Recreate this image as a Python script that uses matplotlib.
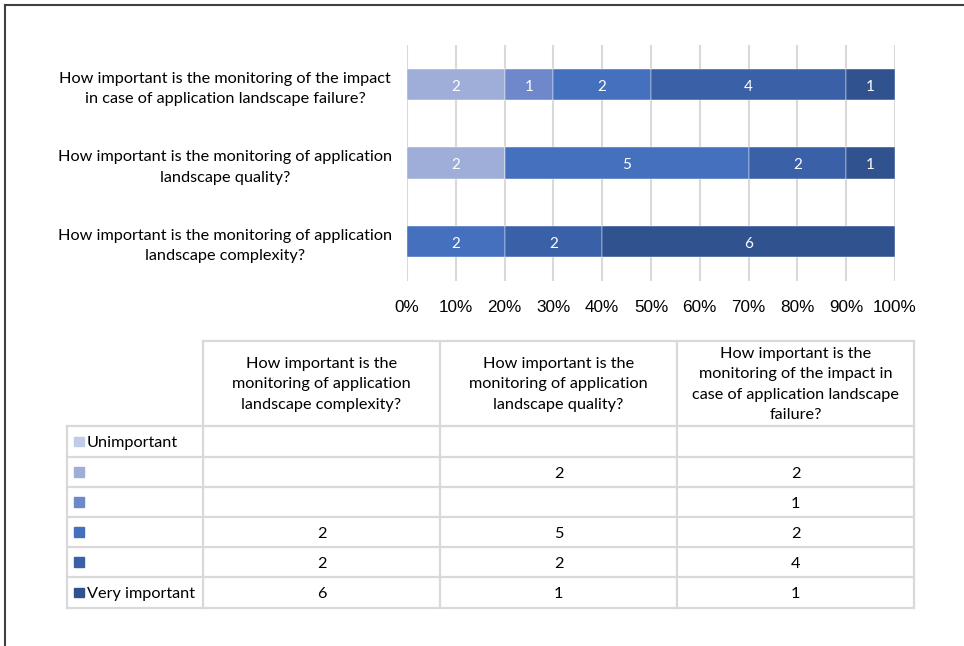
import matplotlib.pyplot as plt
import numpy as np
from matplotlib.lines import Line2D

# survey answers, levels from "Unimportant" (1) to "Very important" (6)
questions = [
    "How important is the monitoring of application\nlandscape complexity?",
    "How important is the monitoring of application\nlandscape quality?",
    "How important is the monitoring of the impact\nin case of application landscape failure?",
]
table_headers = [
    "How important is the\nmonitoring of application\nlandscape complexity?",
    "How important is the\nmonitoring of application\nlandscape quality?",
    "How important is the\nmonitoring of the impact in\ncase of application landscape\nfailure?",
]
levels = ["Unimportant", "", "", "", "", "Very important"]
complexity = [0, 0, 0, 2, 2, 6]
quality = [0, 2, 0, 5, 2, 1]
failure = [0, 2, 1, 2, 4, 1]
colors = ["#C1CAE6", "#9FADD9", "#6E88CB", "#4470BE", "#3A61A8", "#30528F"]
ticks = [0, 10, 20, 30, 40, 50, 60, 70, 80, 90, 100]

W, H = 964, 646
fig = plt.figure(figsize=(W / 100, H / 100), dpi=100)
font = "Lato"
fs = 11.7

counts = np.array([complexity, quality, failure], dtype=float)
pct = counts / counts.sum(axis=1, keepdims=True) * 100

# ---- stacked bar chart
ax = fig.add_axes([407 / W, 1 - 281 / H, (895 - 407) / W, (281 - 45) / H])
left = np.zeros(len(questions))
for j in range(len(levels)):
    bars = ax.barh(range(len(questions)), pct[:, j], left=left, height=0.4,
                   color=colors[j], edgecolor="white", linewidth=0.3, zorder=3)
    for i, b in enumerate(bars):
        if counts[i, j] > 0:
            ax.text(left[i] + pct[i, j] / 2, i - 0.03, str(int(counts[i, j])),
                    ha="center", va="center", color="white", fontsize=11,
                    family=font, zorder=4)
    left += pct[:, j]

ax.set_xlim(0, 100)
ax.set_ylim(-0.5, 2.5)
ax.set_xticks(ticks)
ax.set_xticklabels([f"{t}%" for t in ticks], family="Liberation Sans", fontsize=12.3)
ax.set_yticks(range(len(questions)))
ax.set_yticklabels(questions, family=font, fontsize=fs, ha="center",
                   linespacing=1.55)
ax.tick_params(axis="y", length=0, pad=(407 - 225) * 0.72)
ax.tick_params(axis="x", length=0, pad=14)
ax.grid(axis="x", color="#D9D9D9", linewidth=1.5, zorder=0)
for s in ax.spines.values():
    s.set_visible(False)

# ---- data table
tx0, tx1, ty0, ty1 = 67, 914, 341, 608
tab = fig.add_axes([tx0 / W, 1 - ty1 / H, (tx1 - tx0) / W, (ty1 - ty0) / H])
tab.set_xlim(tx0, tx1)
tab.set_ylim(ty1, ty0)
tab.axis("off")
col_edges = [67, 203, 440, 677, 914]
row_edges = [341, 426, 457, 487, 517, 547, 577, 608]
grid_c = "#D9D9D9"
lw = 1.6
# header cells
for k in range(1, 4):
    tab.plot([col_edges[k], col_edges[k]], [row_edges[0], row_edges[-1]],
             color=grid_c, lw=lw, clip_on=False)
tab.plot([col_edges[1], col_edges[-1]], [row_edges[0], row_edges[0]],
         color=grid_c, lw=lw, clip_on=False)
tab.plot([col_edges[-1], col_edges[-1]], [row_edges[0], row_edges[-1]],
         color=grid_c, lw=lw, clip_on=False)
tab.plot([col_edges[0], col_edges[0]], [row_edges[1], row_edges[-1]],
         color=grid_c, lw=lw, clip_on=False)
for r in row_edges[1:]:
    tab.plot([col_edges[0], col_edges[-1]], [r, r], color=grid_c, lw=lw,
             clip_on=False)

for k, h in enumerate(table_headers):
    tab.text((col_edges[k + 1] + col_edges[k + 2]) / 2,
             (row_edges[0] + row_edges[1]) / 2 + 1, h, ha="center", va="center",
             family=font, fontsize=fs, linespacing=1.55)

series = [complexity, quality, failure]
for j, lev in enumerate(levels):
    yc = (row_edges[j + 1] + row_edges[j + 2]) / 2
    tab.add_patch(plt.Rectangle((74, yc - 4.5), 10, 9.5, color=colors[j],
                                clip_on=False))
    tab.text(87, yc + 2, lev, ha="left", va="center", family=font, fontsize=fs)
    for k, s in enumerate(series):
        if s[j] > 0:
            tab.text((col_edges[k + 1] + col_edges[k + 2]) / 2, yc + 2, str(s[j]),
                     ha="center", va="center", family=font, fontsize=fs)

# frame lines at top and left
fig.add_artist(Line2D([5 / W, 1], [1 - 5 / H, 1 - 5 / H], color="#404040", lw=1.5))
fig.add_artist(Line2D([5 / W, 5 / W], [0, 1 - 5 / H], color="#404040", lw=1.5))

fig.savefig("out.png", dpi=100)
